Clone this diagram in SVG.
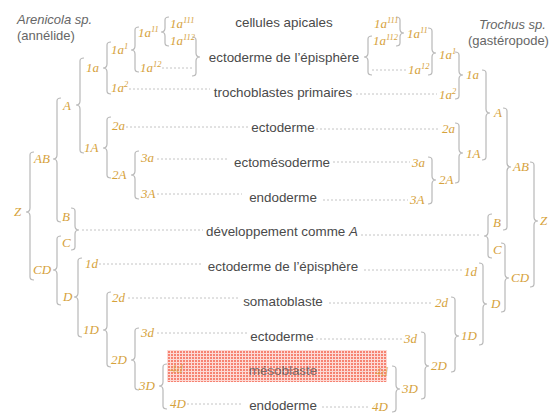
<svg xmlns="http://www.w3.org/2000/svg" width="549" height="414" viewBox="0 0 549 414">
<style>
.t{font-family:"Liberation Sans",Arial,sans-serif;font-size:13.4px;fill:#4a4a4a;text-anchor:middle}
.sp{font-family:"Liberation Sans",Arial,sans-serif;font-size:13px;fill:#666}
.l{font-family:"Liberation Serif","Times New Roman",serif;font-style:italic;font-size:13px;fill:#d6a23c}
.s{font-size:8.5px}
.br{fill:none;stroke:#b8b8b8;stroke-width:1.2}
.dot{fill:none;stroke:#c4c4c4;stroke-width:1;stroke-dasharray:2 2}
</style>
<defs>
<pattern id="hatch" width="3" height="3" patternUnits="userSpaceOnUse">
<rect width="3" height="3" fill="#f4644f"/>
<path d="M0 2.5H3M2.5 0V3" stroke="#fff" stroke-width="1" opacity="0.7"/>
</pattern>
</defs>
<rect width="549" height="414" fill="#fff"/>

<g id="species">
<text class="sp" x="17" y="24" font-style="italic">Arenicola sp.</text>
<text class="sp" x="17" y="40">(annélide)</text>
<text class="sp" x="479" y="29" font-style="italic">Trochus sp.</text>
<text class="sp" x="468" y="45">(gastéropode)</text>
</g>

<g id="connectors">
<path class="br" d="M169 17Q165 17 165 20L165 28Q165 32 161 32Q165 32 165 36L165 43Q165 46 169 46"/>
<path class="br" d="M139 27Q135 27 135 30L135 46Q135 50 131 50Q135 50 135 54L135 69Q135 72 139 72"/>
<path class="br" d="M111 42Q107 42 107 45L107 64Q107 68 103 68Q107 68 107 72L107 91Q107 94 111 94"/>
<path class="br" d="M84 58Q80 58 80 61L80 101Q80 105 76 105Q80 105 80 109L80 150Q80 153 84 153"/>
<path class="br" d="M111 117Q107 117 107 120L107 144Q107 148 103 148Q107 148 107 152L107 175Q107 178 111 178"/>
<path class="br" d="M139 151Q135 151 135 154L135 171Q135 175 131 175Q135 175 135 179L135 196Q135 199 139 199"/>
<path class="br" d="M61 98Q57 98 57 101L57 155Q57 159 53 159Q57 159 57 163L57 219Q57 222 61 222"/>
<path class="br" d="M34 152Q30 152 30 155L30 208Q30 212 26 212Q30 212 30 216L30 277Q30 280 34 280"/>
<path class="br" d="M61 236Q57 236 57 239L57 266Q57 270 53 270Q57 270 57 274L57 302Q57 305 61 305"/>
<path class="br" d="M82 258Q78 258 78 261L78 293Q78 297 74 297Q78 297 78 301L78 334Q78 337 82 337"/>
<path class="br" d="M111 292Q107 292 107 295L107 326Q107 330 103 330Q107 330 107 334L107 364Q107 367 111 367"/>
<path class="br" d="M139 328Q135 328 135 331L135 356Q135 360 131 360Q135 360 135 364L135 387Q135 390 139 390"/>
<path class="br" d="M167 364Q163 364 163 367L163 382Q163 386 159 386Q163 386 163 390L163 406Q163 409 167 409"/>
<path class="br" d="M192 37Q196 37 196 40L196 53Q196 57 200 57Q196 57 196 61L196 73Q196 76 192 76"/>
<path class="br" d="M71 208Q75 208 75 211L75 226Q75 230 79 230Q75 230 75 234L75 247Q75 250 71 250"/>
<path class="br" d="M396 17Q400 17 400 20L400 29Q400 33 404 33Q400 33 400 37L400 43Q400 46 396 46"/>
<path class="br" d="M428 28Q432 28 432 31L432 49Q432 53 436 53Q432 53 432 57L432 72Q432 75 428 75"/>
<path class="br" d="M455 52Q459 52 459 55L459 71Q459 75 463 75Q459 75 459 79L459 96Q459 99 455 99"/>
<path class="br" d="M482 70Q486 70 486 73L486 109Q486 113 490 113Q486 113 486 117L486 157Q486 160 482 160"/>
<path class="br" d="M455 123Q459 123 459 126L459 149Q459 153 463 153Q459 153 459 157L459 180Q459 183 455 183"/>
<path class="br" d="M428 157Q432 157 432 160L432 176Q432 180 436 180Q432 180 432 184L432 201Q432 204 428 204"/>
<path class="br" d="M503 108Q507 108 507 111L507 163Q507 167 511 167Q507 167 507 171L507 227Q507 230 503 230"/>
<path class="br" d="M530 162Q534 162 534 165L534 217Q534 221 538 221Q534 221 534 225L534 284Q534 287 530 287"/>
<path class="br" d="M501 243Q505 243 505 246L505 274Q505 278 509 278Q505 278 505 282L505 309Q505 312 501 312"/>
<path class="br" d="M479 263Q483 263 483 266L483 300Q483 304 487 304Q483 304 483 308L483 342Q483 345 479 345"/>
<path class="br" d="M451 297Q455 297 455 300L455 332Q455 336 459 336Q455 336 455 340L455 369Q455 372 451 372"/>
<path class="br" d="M421 332Q425 332 425 335L425 362Q425 366 429 366Q425 366 425 370L425 396Q425 399 421 399"/>
<path class="br" d="M392 366Q396 366 396 369L396 385Q396 389 400 389Q396 389 396 393L396 409Q396 412 392 412"/>
<path class="br" d="M372 36Q368 36 368 39L368 53Q368 57 364 57Q368 57 368 61L368 72Q368 75 372 75"/>
<path class="br" d="M492 214Q488 214 488 217L488 232Q488 236 484 236Q488 236 488 240L488 255Q488 258 492 258"/>
<path class="dot" d="M162 68H193M129 89H210M126 127H249M157 159H229M157 194H242M82 230H203M99 264H203M128 298H238M157 333H247M183 369H243M187 404H243"/>
<path class="dot" d="M372 70H406M356 94H437M316 129H440M333 162H410M323 200H408M361 235H481M364 270H462M329 303H433M316 339H402M322 372H373M322 407H370"/>
</g>

<g id="highlight">
<rect x="167" y="350" width="220" height="32" fill="url(#hatch)" opacity="0.8"/>
</g>

<g id="rows">
<text class="t" x="284" y="27">cellules apicales</text>
<text class="t" x="284" y="62">ectoderme de l’épisphère</text>
<text class="t" x="283" y="97">trochoblastes primaires</text>
<text class="t" x="283" y="132">ectoderme</text>
<text class="t" x="282" y="167">ectomésoderme</text>
<text class="t" x="283" y="202">endoderme</text>
<text class="t" x="282" y="236">développement comme <tspan font-style="italic">A</tspan></text>
<text class="t" x="283" y="271">ectoderme de l’épisphère</text>
<text class="t" x="283" y="306">somatoblaste</text>
<text class="t" x="282" y="341">ectoderme</text>
<text class="t" x="283" y="375" opacity="0.75">mésoblaste</text>
<text class="t" x="283" y="410">endoderme</text>
</g>

<g id="left-tree">
<g id="L-1a111"><text class="l" x="170" y="28">1a<tspan class="s" dy="-5">111</tspan></text></g>
<g id="L-1a112"><text class="l" x="170" y="45">1a<tspan class="s" dy="-5">112</tspan></text></g>
<g id="L-1a11"><text class="l" x="138" y="37">1a<tspan class="s" dy="-5">11</tspan></text></g>
<g id="L-1a12"><text class="l" x="140" y="72">1a<tspan class="s" dy="-5">12</tspan></text></g>
<g id="L-1a1"><text class="l" x="111" y="54">1a<tspan class="s" dy="-5">1</tspan></text></g>
<g id="L-1a2"><text class="l" x="111" y="92">1a<tspan class="s" dy="-5">2</tspan></text></g>
<g id="L-1a"><text class="l" x="86" y="72">1a</text></g>
<g id="L-A"><text class="l" x="63" y="110">A</text></g>
<g id="L-2a"><text class="l" x="112" y="130">2a</text></g>
<g id="L-1A"><text class="l" x="84" y="152">1A</text></g>
<g id="L-3a"><text class="l" x="141" y="162">3a</text></g>
<g id="L-2A"><text class="l" x="112" y="179">2A</text></g>
<g id="L-3A"><text class="l" x="141" y="198">3A</text></g>
<g id="L-AB"><text class="l" x="34" y="163">AB</text></g>
<g id="L-Z"><text class="l" x="14" y="216">Z</text></g>
<g id="L-B"><text class="l" x="62" y="221">B</text></g>
<g id="L-C"><text class="l" x="62" y="247">C</text></g>
<g id="L-CD"><text class="l" x="33" y="274">CD</text></g>
<g id="L-1d"><text class="l" x="85" y="268">1d</text></g>
<g id="L-D"><text class="l" x="63" y="301">D</text></g>
<g id="L-2d"><text class="l" x="112" y="302">2d</text></g>
<g id="L-1D"><text class="l" x="83" y="334">1D</text></g>
<g id="L-3d"><text class="l" x="141" y="337">3d</text></g>
<g id="L-2D"><text class="l" x="111" y="364">2D</text></g>
<g id="L-4d"><text class="l" x="170" y="373" opacity="0.7">4d</text></g>
<g id="L-3D"><text class="l" x="139" y="390">3D</text></g>
<g id="L-4D"><text class="l" x="170" y="408">4D</text></g>
</g>

<g id="right-tree">
<g id="R-1a111"><text class="l" x="374" y="28">1a<tspan class="s" dy="-5">111</tspan></text></g>
<g id="R-1a112"><text class="l" x="373" y="45">1a<tspan class="s" dy="-5">112</tspan></text></g>
<g id="R-1a11"><text class="l" x="407" y="38">1a<tspan class="s" dy="-5">11</tspan></text></g>
<g id="R-1a12"><text class="l" x="408" y="74">1a<tspan class="s" dy="-5">12</tspan></text></g>
<g id="R-1a1"><text class="l" x="439" y="59">1a<tspan class="s" dy="-5">1</tspan></text></g>
<g id="R-1a2"><text class="l" x="439" y="99">1a<tspan class="s" dy="-5">2</tspan></text></g>
<g id="R-1a"><text class="l" x="466" y="79">1a</text></g>
<g id="R-A"><text class="l" x="494" y="117">A</text></g>
<g id="R-2a"><text class="l" x="442" y="133">2a</text></g>
<g id="R-1A"><text class="l" x="466" y="158">1A</text></g>
<g id="R-3a"><text class="l" x="412" y="167">3a</text></g>
<g id="R-2A"><text class="l" x="439" y="184">2A</text></g>
<g id="R-3A"><text class="l" x="410" y="204">3A</text></g>
<g id="R-AB"><text class="l" x="513" y="171">AB</text></g>
<g id="R-Z"><text class="l" x="540" y="225">Z</text></g>
<g id="R-B"><text class="l" x="493" y="227">B</text></g>
<g id="R-C"><text class="l" x="493" y="254">C</text></g>
<g id="R-CD"><text class="l" x="511" y="282">CD</text></g>
<g id="R-1d"><text class="l" x="464" y="276">1d</text></g>
<g id="R-D"><text class="l" x="491" y="308">D</text></g>
<g id="R-2d"><text class="l" x="435" y="307">2d</text></g>
<g id="R-1D"><text class="l" x="461" y="340">1D</text></g>
<g id="R-3d"><text class="l" x="404" y="343">3d</text></g>
<g id="R-2D"><text class="l" x="431" y="370">2D</text></g>
<g id="R-4d"><text class="l" x="375" y="376" opacity="0.7">4d</text></g>
<g id="R-3D"><text class="l" x="402" y="393">3D</text></g>
<g id="R-4D"><text class="l" x="372" y="411">4D</text></g>
</g>
</svg>
